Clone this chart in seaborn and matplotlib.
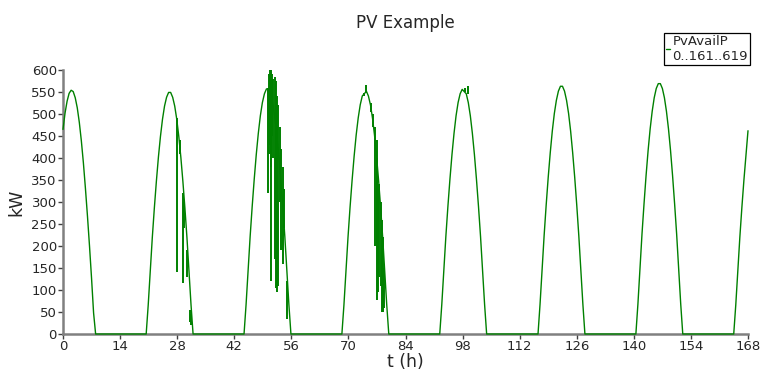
"""
PV Example - available PV power over one week (hourly axis).
"""
import numpy as np
import pandas as pd
import matplotlib
matplotlib.use('Agg')
import matplotlib.pyplot as plt
import seaborn as sns

# ── Data ────────────────────────────────────────────────────────────
STEP = 0.5  # hours between samples inside a day

# start hour of each daily profile
day_start = [0.0, 20.4, 44.4, 68.4, 92.4, 116.5, 140.5, 164.5]

# kW at 0.5 h steps from each start hour
day1 = [465, 502, 529, 547, 554, 551, 537, 514, 481, 439, 389, 331, 268, 200, 127, 48, 0]
day2 = [0, 66, 143, 219, 286, 347, 402, 449, 488, 518, 538, 549, 549, 538, 518, 488, 449, 402, 347, 286, 219, 143, 66, 0]
day3 = [0, 67, 145, 222, 290, 352, 408, 456, 496, 526, 546, 557, 557, 546, 526, 496, 456, 408, 352, 290, 222, 145, 67, 0]
day4 = [0, 66, 144, 220, 288, 349, 404, 452, 491, 521, 541, 546, 552, 541, 521, 491, 452, 404, 349, 288, 220, 144, 66, 0]
day5 = [0, 67, 145, 222, 290, 352, 408, 456, 496, 526, 546, 556, 551, 546, 526, 496, 456, 408, 352, 290, 222, 145, 67, 0]
day6 = [0, 68, 147, 224, 293, 356, 412, 461, 501, 531, 552, 563, 563, 552, 531, 501, 461, 412, 356, 293, 224, 147, 68, 0]
day7 = [0, 68, 148, 227, 296, 360, 417, 466, 506, 537, 558, 569, 569, 558, 537, 506, 466, 417, 360, 296, 227, 148, 68, 0]
day8 = [0, 66, 143, 220, 288, 350, 405, 462]
days = [day1, day2, day3, day4, day5, day6, day7, day8]

# short cloud drops / jumps: hour, top kW, bottom kW
spike_t   = [27.9, 28.6, 29.5, 29.7, 30.3, 31.1, 31.3,
             50.2, 50.5, 50.7, 50.9, 51.1, 51.3, 51.6, 51.9, 52.2, 52.5, 52.8, 53.1, 53.5, 53.9, 54.3, 54.9,
             73.8, 74.4, 75.5, 76.0, 76.6, 76.9, 77.1, 77.3, 77.6, 77.9, 78.2, 78.5, 78.8,
             98.5, 99.3]
spike_top = [492, 440, 320, 300, 190, 55, 45,
             560, 590, 600, 595, 600, 590, 580, 585, 575, 540, 520, 470, 420, 380, 330, 120,
             548, 565, 525, 500, 470, 440, 400, 330, 340, 300, 260, 220, 150,
             558, 563]
spike_bot = [140, 410, 117, 240, 130, 28, 20,
             320, 410, 430, 120, 380, 450, 400, 170, 105, 95, 110, 300, 190, 160, 240, 35,
             540, 548, 505, 470, 200, 200, 78, 95, 130, 110, 50, 50, 60,
             550, 545]

x_ticks = list(range(0, 169, 14))
y_ticks = list(range(0, 601, 50))
legend_label = 'PvAvailP\n0..161..619'
GREEN = '#008000'

# ── Build the series ─────────────────────────────────────────────────
parts = []
for start, vals in zip(day_start, days):
    t = start + STEP * np.arange(len(vals))
    parts.append(pd.DataFrame({'t': t, 'kW': vals}))
df = pd.concat(parts, ignore_index=True)

# ── Plot ─────────────────────────────────────────────────────────────
sns.set_style('ticks')
plt.rcParams['font.family'] = ['DejaVu Sans']

fig = plt.figure(figsize=(7.62, 3.72), dpi=100)
ax = fig.add_axes([63 / 762, 38 / 372, 685 / 762, 264 / 372])

sns.lineplot(data=df, x='t', y='kW', ax=ax, color=GREEN, lw=1.0,
             estimator=None, sort=False, label=legend_label, zorder=3, clip_on=False)
ax.vlines(spike_t, spike_bot, spike_top, color=GREEN, lw=1.4, zorder=3)

ax.set_xlim(0, 168)
ax.set_ylim(0, 600)
ax.set_xticks(x_ticks)
ax.set_yticks(y_ticks)
ax.tick_params(labelsize=9.5, length=3.5, width=1, color='#404040', pad=1)
ax.set_xlabel('t (h)', fontsize=12.5, labelpad=0)
ax.set_ylabel('kW', fontsize=12.5, labelpad=4)
ax.set_title('PV Example', fontsize=12, pad=30)
sns.despine(ax=ax)
for s in ['left', 'bottom']:
    ax.spines[s].set_color('#808080')
    ax.spines[s].set_linewidth(1.8)

ax.legend(loc='upper right', bbox_to_anchor=(750 / 762, 339 / 372),
          bbox_transform=fig.transFigure, fontsize=9.5, handlelength=0.3,
          handletextpad=0.2, borderpad=0.15, borderaxespad=0, fancybox=False,
          edgecolor='black', framealpha=1)
ax.get_legend().get_frame().set_linewidth(0.9)

fig.savefig('out.png', dpi=100)
